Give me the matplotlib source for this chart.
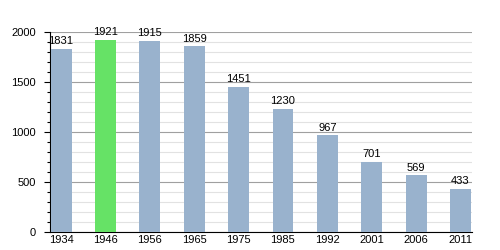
import numpy as np
import matplotlib.pyplot as plt
from matplotlib.ticker import MultipleLocator

plt.rcParams['font.family'] = ['Liberation Sans', 'DejaVu Sans']

years = ['1934', '1946', '1956', '1965', '1975', '1985', '1992', '2001', '2006', '2011']
population = [1831, 1921, 1915, 1859, 1451, 1230, 967, 701, 569, 433]
highlight = '1946'

blue = '#99b2cd'
green = '#66e266'
colors = [green if y == highlight else blue for y in years]

fig = plt.figure(figsize=(5, 2.5), dpi=100)
ax = fig.add_axes([0.1, 0.072, 0.844, 0.8])

x = np.arange(len(years))
ax.bar(x, population, width=0.47, color=colors, zorder=3)

# подписи над столбцами
for xi, v in zip(x, population):
    ax.text(xi, v + 25, str(v), ha='center', va='bottom', fontsize=8, clip_on=False)

ax.set_xlim(-0.25, 9.26)
ax.set_ylim(0, 2000)
ax.set_xticks(x)
ax.set_xticklabels(years, fontsize=8)
ax.yaxis.set_major_locator(MultipleLocator(500))
ax.yaxis.set_minor_locator(MultipleLocator(100))
ax.tick_params(axis='y', labelsize=8, length=4, width=0.8, pad=6)
ax.tick_params(axis='y', which='minor', length=2, width=0.8)
ax.tick_params(axis='x', length=0, pad=2)

ax.grid(axis='y', which='major', color='#a0a0a0', linewidth=0.8, zorder=0)
ax.grid(axis='y', which='minor', color='#e2e2e2', linewidth=0.8, zorder=0)
ax.set_axisbelow(True)

for s in ['top', 'right']:
    ax.spines[s].set_visible(False)

plt.savefig('out.png')
